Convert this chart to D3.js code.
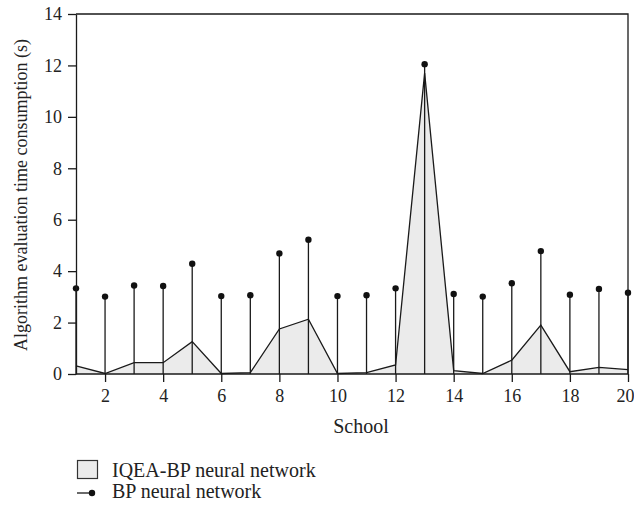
<!DOCTYPE html>
<html><head><meta charset="utf-8">
<script src="https://cdn.jsdelivr.net/npm/d3@7"></script>
<style>body{margin:0;background:#fff}svg{display:block}text{font-family:"Liberation Serif","DejaVu Serif",serif;fill:#222}</style>
</head><body>
<script>
const schools = d3.range(1, 21);
const iqeaBP = [0.32,0.02,0.44,0.44,1.26,0.02,0.05,1.75,2.13,0.02,0.05,0.35,11.7,0.13,0.02,0.54,1.9,0.09,0.26,0.17];
const bp = [3.33,3.01,3.44,3.42,4.29,3.03,3.06,4.69,5.22,3.03,3.06,3.33,12.05,3.11,3.01,3.53,4.78,3.08,3.31,3.16];
const xTicks = [2,4,6,8,10,12,14,16,18,20];
const yTicks = [0,2,4,6,8,10,12,14];
const legendLabels = ["IQEA-BP neural network","BP neural network"];

const W=634,H=509, L=76,R=628,T=14,B=374;
const svg=d3.select("body").append("svg").attr("width",W).attr("height",H);
const x=d3.scaleLinear().domain([1,20]).range([L,R]);
const y=d3.scaleLinear().domain([0,14]).range([B,T]);

const data = schools.map((s,i)=>({s,a:iqeaBP[i],b:bp[i]}));

// area
svg.append("path").datum(data)
  .attr("d",d3.area().x(d=>x(d.s)).y0(y(0)).y1(d=>y(d.a)))
  .attr("fill","#ebebeb").attr("stroke","none");
svg.append("path").datum(data)
  .attr("d",d3.line().x(d=>x(d.s)).y(d=>y(d.a)))
  .attr("fill","none").attr("stroke","#1a1a1a").attr("stroke-width",1.3);

// stems
svg.selectAll(".stem").data(data).enter().append("line")
  .attr("x1",d=>x(d.s)).attr("x2",d=>x(d.s)).attr("y1",y(0)).attr("y2",d=>y(d.b))
  .attr("stroke","#1a1a1a").attr("stroke-width",1.3);
svg.selectAll(".dot").data(data).enter().append("circle")
  .attr("cx",d=>x(d.s)).attr("cy",d=>y(d.b)).attr("r",3.2).attr("fill","#111");

// frame top/right
svg.append("path").attr("d",`M${L},${T}H${R}V${B}`).attr("fill","none").attr("stroke","#1a1a1a").attr("stroke-width",1.3);

// axes
const xa=svg.append("g").attr("transform",`translate(0,${B})`)
  .call(d3.axisBottom(x).tickValues(xTicks).tickSize(8).tickPadding(7).tickSizeOuter(0));
const ya=svg.append("g").attr("transform",`translate(${L},0)`)
  .call(d3.axisLeft(y).tickValues(yTicks).tickSize(8).tickPadding(6).tickSizeOuter(0));
[xa,ya].forEach(g=>{
  g.attr("font-size",18).attr("font-family","Liberation Serif, DejaVu Serif, serif");
  g.select(".domain").attr("stroke","#1a1a1a").attr("stroke-width",1.3);
  g.selectAll(".tick line").attr("stroke","#1a1a1a").attr("stroke-width",1.3);
  g.selectAll(".tick text").style("font-size","18px").attr("fill","#222");
});
xa.select(".domain").attr("d",`M${L},0H${R}`);
xa.selectAll(".tick text").attr("dx",d=>d===20?-3:0);

// axis titles
svg.append("text").attr("x",361).attr("y",433).attr("text-anchor","middle").attr("font-size",20).text("School");
svg.append("text").attr("transform",`translate(27,${(T+B)/2+1}) rotate(-90)`).attr("text-anchor","middle")
  .attr("font-size",18).text("Algorithm evaluation time consumption (s)");

// legend
const lg=svg.append("g");
lg.append("rect").attr("x",77.5).attr("y",460.5).attr("width",20).attr("height",18)
  .attr("fill","#ebebeb").attr("stroke","#333").attr("stroke-width",1.2);
lg.append("text").attr("x",112).attr("y",477).attr("font-size",20).text(legendLabels[0]);
lg.append("line").attr("x1",77).attr("x2",92).attr("y1",493).attr("y2",493).attr("stroke","#1a1a1a").attr("stroke-width",1.3);
lg.append("circle").attr("cx",92).attr("cy",493).attr("r",3.2).attr("fill","#111");
lg.append("text").attr("x",112).attr("y",498).attr("font-size",20).text(legendLabels[1]);
</script>
</body></html>
